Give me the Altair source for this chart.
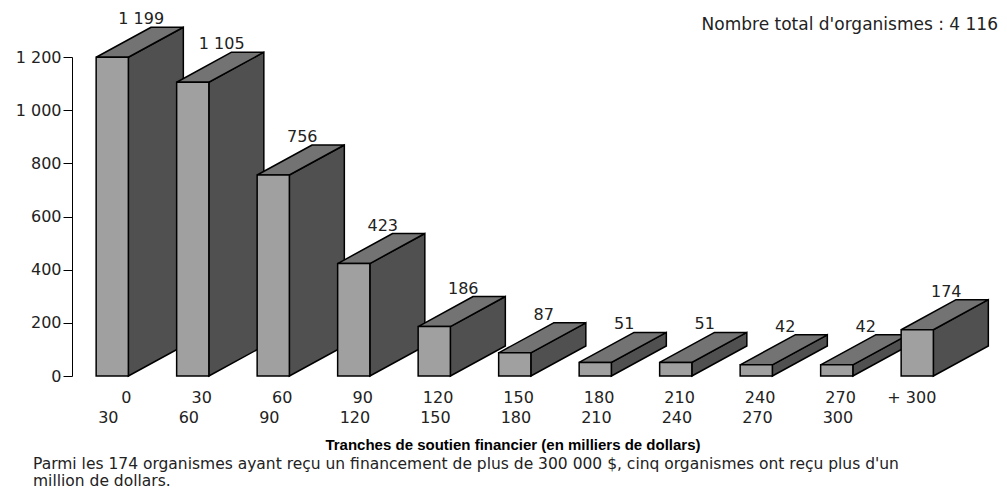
import altair as alt
import pandas as pd

# ---- data ----
lower_labels = ["0", "30", "60", "90", "120", "150", "180", "210", "240", "270", "+ 300"]
upper_labels = ["30", "60", "90", "120", "150", "180", "210", "240", "270", "300", ""]
counts = [1199, 1105, 756, 423, 186, 87, 51, 51, 42, 42, 174]
y_ticks = [0, 200, 400, 600, 800, 1000, 1200]
x_title = "Tranches de soutien financier (en milliers de dollars)"
note = ("Parmi les 174 organismes ayant reçu un financement de plus de 300 000 $, "
        "cinq organismes ont reçu plus d'un\nmillion de dollars.")

# ---- style ----
FONT = "DejaVu Sans"
W_FRONT = 0.4      # front face width (slot units)
DX = 0.683         # depth offset along x (slot units)
DY = 113           # depth offset along y (value units)
FRONT = "#a0a0a0"
SIDE = "#505050"
TOP = "#737373"

n = len(counts)
bars = pd.DataFrame({"i": list(range(n)), "v": counts,
                     "lo": lower_labels, "hi": upper_labels})
bars["xr"] = bars["i"] + W_FRONT
bars["zero"] = 0

side_rows, top_rows = [], []
for i, v in zip(bars["i"], bars["v"]):
    xr = i + W_FRONT
    side_rows.append({"bar": i, "x": xr, "y": 0, "y2": v})
    side_rows.append({"bar": i, "x": xr + DX, "y": DY, "y2": v + DY})
    top_rows.append({"bar": i, "y": v, "x": i, "x2": xr})
    top_rows.append({"bar": i, "y": v + DY, "x": i + DX, "x2": xr + DX})
side = pd.DataFrame(side_rows)
top = pd.DataFrame(top_rows)

xs = alt.Scale(domain=[-0.3, 11.2031], nice=False, zero=False)
ys = alt.Scale(domain=[0, 1200], nice=False, zero=False)
y_axis = alt.Axis(
    values=y_ticks, title=None, grid=False,
    labelExpr="replace(format(datum.value, ','), ',', ' ')",
    domain=True, domainColor="black", domainWidth=1,
    ticks=True, tickColor="black", tickSize=9, tickWidth=1,
    labelPadding=2, labelFont=FONT, labelFontSize=16, labelColor="#222")

side_layer = alt.Chart(side).mark_area(
    fill=SIDE, stroke="black", strokeWidth=1.5, opacity=1
).encode(
    x=alt.X("x:Q", scale=xs, axis=None),
    y=alt.Y("y:Q", scale=ys, axis=y_axis),
    y2="y2:Q",
    detail="bar:N",
)

top_layer = alt.Chart(top).mark_area(
    orient="horizontal", fill=TOP, stroke="black", strokeWidth=1.5, opacity=1
).encode(
    y=alt.Y("y:Q", scale=ys, axis=y_axis),
    x=alt.X("x:Q", scale=xs, axis=None),
    x2="x2:Q",
    detail="bar:N",
)

front_layer = alt.Chart(bars).mark_rect(
    fill=FRONT, stroke="black", strokeWidth=1.5
).encode(
    x=alt.X("i:Q", scale=xs, axis=None),
    x2="xr:Q",
    y=alt.Y("v:Q", scale=ys, axis=y_axis),
    y2="zero:Q",
)

value_labels = alt.Chart(bars).transform_calculate(
    xl="datum.i + 0.56", yl="datum.v + %d" % DY,
    txt="replace(format(datum.v, ','), ',', ' ')"
).mark_text(
    font=FONT, fontSize=16, color="#222", align="center", baseline="alphabetic", dy=-3
).encode(
    x=alt.X("xl:Q", scale=xs, axis=None),
    y=alt.Y("yl:Q", scale=ys, axis=y_axis),
    text="txt:N",
)

lo_layer = alt.Chart(bars).mark_text(
    font=FONT, fontSize=16, color="#222", align="right", baseline="alphabetic", dx=3
).encode(
    x=alt.X("xr:Q", scale=xs, axis=None),
    y=alt.value(346),
    text="lo:N",
)

hi_layer = alt.Chart(bars).mark_text(
    font=FONT, fontSize=16, color="#222", align="left", baseline="alphabetic", dx=2
).encode(
    x=alt.X("i:Q", scale=xs, axis=None),
    y=alt.value(366),
    text="hi:N",
)

one = pd.DataFrame({"k": [0]})

total_layer = alt.Chart(one).mark_text(
    font=FONT, fontSize=17, color="#222", align="right", baseline="alphabetic"
).encode(
    x=alt.value(926), y=alt.value(-27),
    text=alt.value("Nombre total d'organismes : %s" % f"{sum(counts):,}".replace(",", " ")),
)

xtitle_layer = alt.Chart(one).mark_text(
    font="Liberation Sans", fontSize=15, fontWeight="bold", color="black",
    align="center", baseline="alphabetic"
).encode(x=alt.value(441), y=alt.value(393), text=alt.value(x_title))

note_layer = alt.Chart(one).mark_text(
    font=FONT, fontSize=15.5, color="#222", align="left",
    baseline="alphabetic", lineBreak="\n", lineHeight=17.5
).encode(x=alt.value(-39), y=alt.value(411.5), text=alt.value(note))

chart = alt.layer(
    side_layer, top_layer, front_layer, value_labels, lo_layer, hi_layer,
    total_layer, xtitle_layer, note_layer
).properties(
    width=926, height=319,
    autosize=alt.AutoSizeParams(type="none"),
    padding={"left": 64, "top": 49, "right": 1, "bottom": 114},
).configure_view(stroke=None, strokeWidth=0)

chart.save("out.html", embed_options={"renderer": "svg", "actions": False})
